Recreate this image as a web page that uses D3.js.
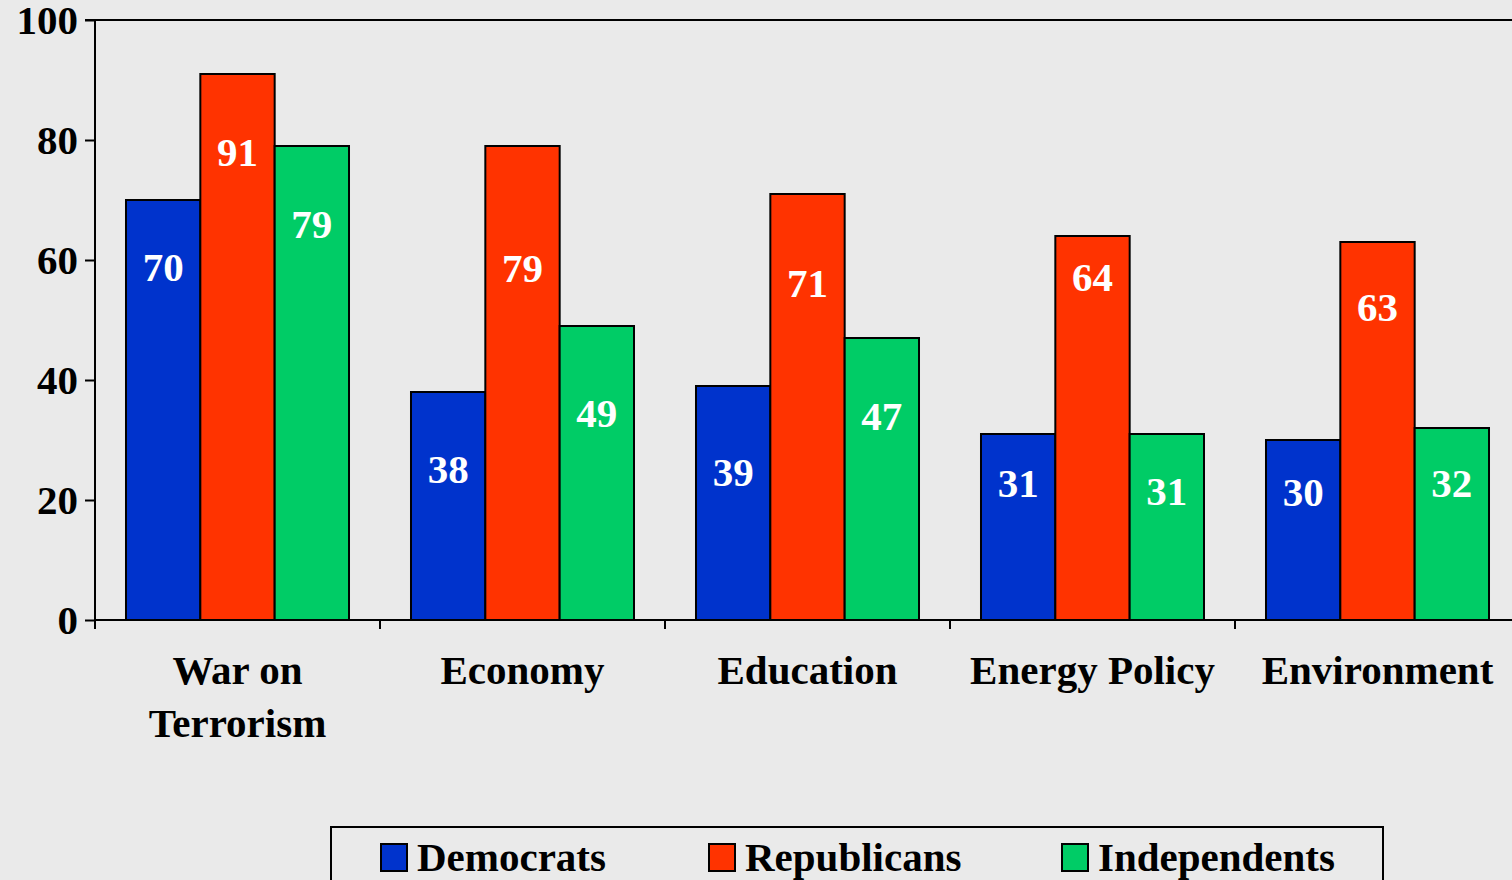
<!DOCTYPE html>
<html><head><meta charset="utf-8">
<script src="https://cdn.jsdelivr.net/npm/d3@7"></script>
<style>
html,body{margin:0;padding:0;background:#eaeaea;overflow:hidden;}
svg{display:block;}
text{font-family:"Liberation Serif","Times New Roman",serif;font-weight:bold;}
</style></head>
<body>
<svg id="chart" width="1512" height="880"></svg>
<script>
const categories = ["War on|Terrorism", "Economy", "Education", "Energy Policy", "Environment"];
const seriesNames = ["Democrats", "Republicans", "Independents"];
const democrats = [70, 38, 39, 31, 30];
const republicans = [91, 79, 71, 64, 63];
const independents = [79, 49, 47, 31, 32];
// label anchor heights (in value units) as placed in the original
const democratsLabelAt = [58.8, 25.2, 24.7, 22.8, 21.3];
const republicansLabelAt = [78, 58.7, 56.2, 57.2, 52.2];
const independentsLabelAt = [66, 34.5, 34, 21.5, 22.8];
const colors = ["#0033cc", "#ff3300", "#00cc66"];
const yTicks = [0, 20, 40, 60, 80, 100];

const values = [democrats, republicans, independents];
const labelAt = [democratsLabelAt, republicansLabelAt, independentsLabelAt];

const svg = d3.select("#chart");
const mLeft = 95, mRight = 1520, mTop = 20, mBottom = 620;

const x = d3.scaleBand().domain(categories).range([mLeft, mRight])
  .paddingInner(0.2175).paddingOuter(0.10875);
const xs = d3.scaleBand().domain(seriesNames).range([0, x.bandwidth()]);
const y = d3.scaleLinear().domain([0, 100]).range([mBottom, mTop]);

// top frame line
svg.append("line").attr("x1", mLeft - 10).attr("x2", mRight).attr("y1", y(100)).attr("y2", y(100))
  .attr("stroke", "#000").attr("stroke-width", 2);

// bars
const groups = svg.selectAll("g.cat").data(categories).enter().append("g")
  .attr("class", "cat").attr("transform", d => `translate(${x(d)},0)`);

seriesNames.forEach((s, si) => {
  groups.append("rect")
    .attr("x", xs(s)).attr("width", xs.bandwidth())
    .attr("y", (d, i) => y(values[si][i]))
    .attr("height", (d, i) => y(0) - y(values[si][i]))
    .attr("fill", colors[si]).attr("stroke", "#000").attr("stroke-width", 2);
});
seriesNames.forEach((s, si) => {
  groups.append("text")
    .attr("x", xs(s) + xs.bandwidth() / 2)
    .attr("y", (d, i) => y(labelAt[si][i]) + 14)
    .attr("text-anchor", "middle").attr("fill", "#fff").attr("font-size", 41)
    .text((d, i) => values[si][i]);
});

// y axis
const yAxis = d3.axisLeft(y).tickValues(yTicks).tickSize(10).tickPadding(8);
const gy = svg.append("g").attr("transform", `translate(${mLeft},0)`).call(yAxis);
gy.select(".domain").attr("stroke", "#000").attr("stroke-width", 2).attr("d", `M0,${mTop}V${mBottom}`);
gy.selectAll(".tick line").attr("stroke", "#000").attr("stroke-width", 2);
gy.selectAll(".tick text").attr("font-size", 41).attr("fill", "#000")
  .attr("font-family", "Liberation Serif, Times New Roman, serif").attr("font-weight", "bold")
  .attr("dy", "0.34em").attr("x", -17);

// x axis line and boundary ticks
svg.append("line").attr("x1", mLeft).attr("x2", mRight).attr("y1", y(0)).attr("y2", y(0))
  .attr("stroke", "#000").attr("stroke-width", 2);
const step = x.step();
const boundaries = d3.range(categories.length + 1).map(i => mLeft + i * step);
svg.selectAll("line.xtick").data(boundaries).enter().append("line")
  .attr("x1", d => d).attr("x2", d => d).attr("y1", y(0)).attr("y2", y(0) + 9)
  .attr("stroke", "#000").attr("stroke-width", 2);

// category labels
const catText = svg.selectAll("text.cat").data(categories).enter().append("text")
  .attr("text-anchor", "middle").attr("font-size", 41).attr("fill", "#000")
  .attr("transform", d => `translate(${x(d) + x.bandwidth() / 2},684)`);
catText.each(function(d) {
  const lines = d.split("|");
  lines.forEach((l, i) => {
    d3.select(this).append("tspan").attr("x", 0).attr("y", i * 53).text(l);
  });
});

// legend
svg.append("rect").attr("x", 331).attr("y", 827).attr("width", 1052).attr("height", 70)
  .attr("fill", "none").attr("stroke", "#000").attr("stroke-width", 2);
const legendX = [381, 709, 1062];
seriesNames.forEach((s, si) => {
  svg.append("rect").attr("x", legendX[si]).attr("y", 844).attr("width", 26).attr("height", 27)
    .attr("fill", colors[si]).attr("stroke", "#000").attr("stroke-width", 2);
  svg.append("text").attr("x", legendX[si] + 36).attr("y", 871).attr("font-size", 41)
    .attr("fill", "#000").text(s);
});
</script>
</body></html>
